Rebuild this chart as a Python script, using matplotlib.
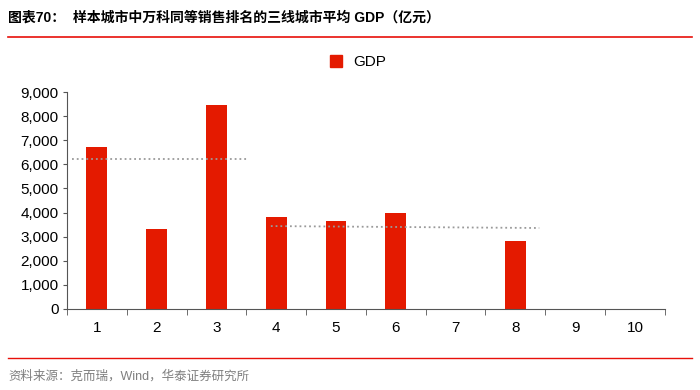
import matplotlib.pyplot as plt
from matplotlib.lines import Line2D
import numpy as np

plt.rcParams['font.family'] = ['Liberation Sans', 'Noto Sans CJK SC', 'DejaVu Sans']

# 数据
ranks = [1, 2, 3, 4, 5, 6, 7, 8, 9, 10]
gdp = [6730, 3300, 8470, 3830, 3660, 3970, 0, 2830, 0, 0]
yticks = [0, 1000, 2000, 3000, 4000, 5000, 6000, 7000, 8000, 9000]

# 两条平均线（虚线）
avg1_x = [0.58, 3.52]
avg1_y = [6240, 6240]
avg2_x = [3.91, 8.40]
avg2_y = [3440, 3360]

red = '#E41A00'

fig = plt.figure(figsize=(7, 3.9), dpi=100)
ax = fig.add_axes([0.0957, 0.2077, 0.854, 0.5563])

ax.bar(ranks, gdp, width=0.35, color=red, zorder=2)
ax.plot(avg1_x, avg1_y, ls=':', color='#9A9A9A', lw=1.3, zorder=3)
ax.plot(avg2_x, avg2_y, ls=':', color='#9A9A9A', lw=1.3, zorder=3)

ax.set_xlim(0.5, 10.5)
ax.set_ylim(0, 9000)
ax.set_yticks(yticks)
ax.set_yticklabels([f'{v:,}' for v in yticks], fontsize=11)
ax.set_xticks(ranks)
ax.set_xticklabels([str(r) for r in ranks], fontsize=11)
ax.set_xticks(np.arange(0.5, 11, 1), minor=True)
ax.tick_params(axis='x', which='major', length=0, pad=9)
ax.tick_params(axis='x', which='minor', length=4, direction='out', color='#555555')
ax.tick_params(axis='y', length=3, color='#555555', pad=3)

for s in ['top', 'right']:
    ax.spines[s].set_visible(False)
for s in ['left', 'bottom']:
    ax.spines[s].set_color('#555555')
    ax.spines[s].set_linewidth(0.8)

handle = Line2D([], [], marker='s', ls='', color=red, markersize=8)
fig.legend([handle], ['GDP'], loc='center', bbox_to_anchor=(0.505, 0.84),
           frameon=False, fontsize=11, handletextpad=0.1)

# 标题与来源
fig.text(0.012, 0.955, '图表70：  样本城市中万科同等销售排名的三线城市平均 GDP（亿元）',
         fontsize=10, fontweight='bold', va='center', ha='left')
fig.add_artist(Line2D([0.012, 0.988], [0.905, 0.905], color='#E8100A', lw=1.2))
fig.add_artist(Line2D([0.012, 0.988], [0.082, 0.082], color='#E8100A', lw=1.0))
fig.text(0.012, 0.035, '资料来源：克而瑞，Wind，华泰证券研究所', fontsize=9,
         color='#7F7F7F', va='center', ha='left')

plt.savefig('out.png', dpi=100)
plt.close()
